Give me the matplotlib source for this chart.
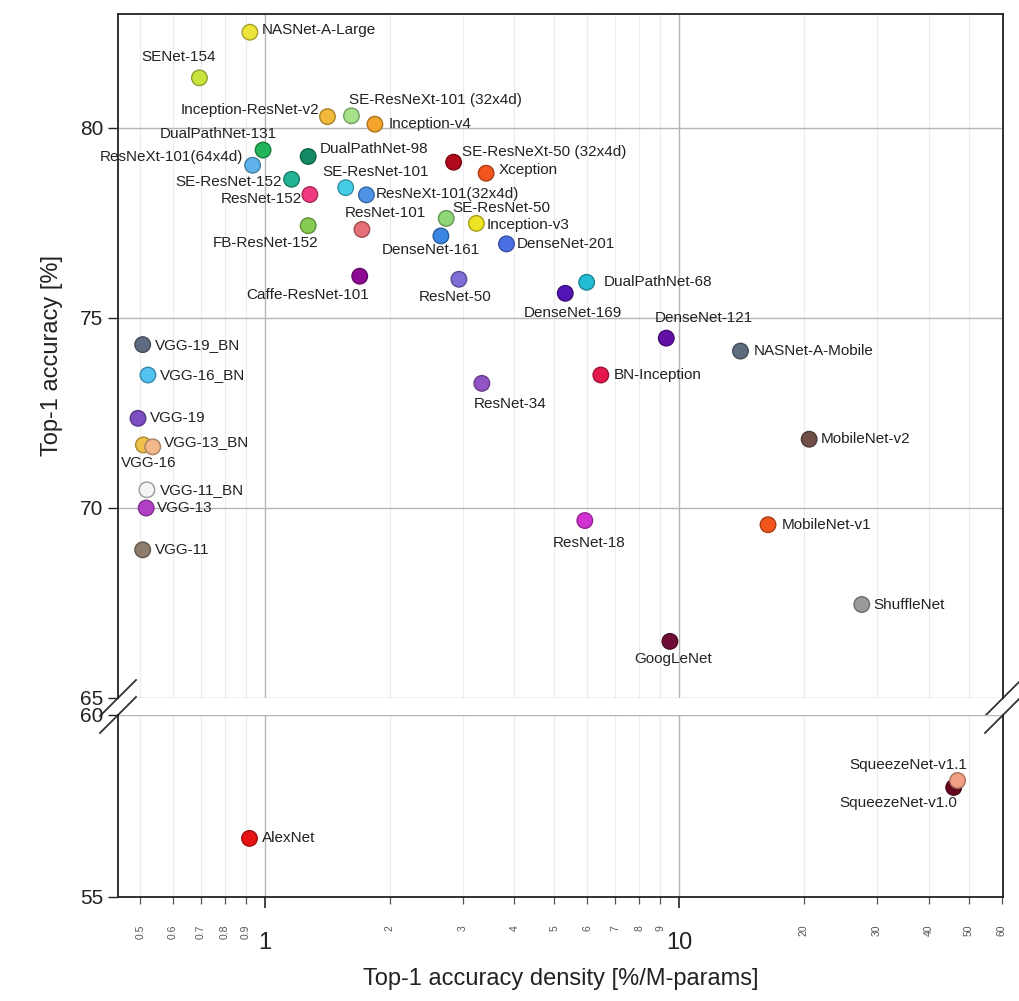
import matplotlib
matplotlib.use("Agg")
import matplotlib.pyplot as plt
import matplotlib.colors as mcolors
from matplotlib.ticker import FixedLocator, FixedFormatter
import numpy as np

plt.rcParams['font.family'] = ['Liberation Sans', 'DejaVu Sans']

# ---------------- data ----------------
names = ["NASNet-A-Large", "SENet-154", "Inception-ResNet-v2", "SE-ResNeXt-101 (32x4d)",
         "Inception-v4", "DualPathNet-131", "ResNeXt-101(64x4d)", "DualPathNet-98",
         "SE-ResNet-152", "ResNet-152", "FB-ResNet-152", "SE-ResNet-101",
         "ResNeXt-101(32x4d)", "ResNet-101", "SE-ResNeXt-50 (32x4d)", "Xception",
         "SE-ResNet-50", "Inception-v3", "DenseNet-161", "DenseNet-201",
         "Caffe-ResNet-101", "ResNet-50", "DualPathNet-68", "DenseNet-169",
         "DenseNet-121", "NASNet-A-Mobile", "BN-Inception", "ResNet-34",
         "VGG-19_BN", "VGG-16_BN", "VGG-19", "VGG-16", "VGG-13_BN", "VGG-11_BN",
         "VGG-13", "VGG-11", "MobileNet-v2", "ResNet-18", "MobileNet-v1",
         "ShuffleNet", "GoogLeNet", "AlexNet", "SqueezeNet-v1.0", "SqueezeNet-v1.1"]

density = [0.92, 0.695, 1.416, 1.618,
           1.843, 0.99, 0.934, 1.272,
           1.16, 1.284, 1.272, 1.567,
           1.758, 1.715, 2.855, 3.42,
           2.74, 3.24, 2.66, 3.83,
           1.694, 2.94, 5.98, 5.31,
           9.31, 14.06, 6.47, 3.34,
           0.507, 0.522, 0.494, 0.509, 0.536, 0.519,
           0.517, 0.507, 20.6, 5.92, 16.39,
           27.6, 9.5, 0.918, 46.0, 47.0]

accuracy = [82.52, 81.32, 80.30, 80.32,
            80.10, 79.42, 79.02, 79.25,
            78.65, 78.25, 77.43, 78.43,
            78.24, 77.33, 79.10, 78.81,
            77.62, 77.49, 77.16, 76.95,
            76.10, 76.02, 75.94, 75.65,
            74.47, 74.13, 73.50, 73.28,
            74.30, 73.50, 72.36, 71.66, 71.61, 70.48,
            70.00, 68.90, 71.81, 69.67, 69.56,
            67.46, 66.49, 56.61, 58.01, 58.20]

colors = ["#ece43a", "#c8e43c", "#f2b93a", "#a6e28a",
          "#f3a52d", "#22b45a", "#5fb3ea", "#128a66",
          "#24b295", "#f03a80", "#86cc52", "#45cde6",
          "#4f93e6", "#e46f78", "#b00a1c", "#f2561e",
          "#8fd676", "#ece424", "#3a86e2", "#4a70e4",
          "#8e0a92", "#7c6ed4", "#24bcd4", "#5214b2",
          "#620fa6", "#5e6d7e", "#e3184c", "#9254c4",
          "#5f6b80", "#52c2f0", "#7d4fc2", "#f0c24a", "#f2b88c", "#f4f4f4",
          "#b240c6", "#8e7c6c", "#6e5046", "#d232d2", "#f2561a",
          "#9a9a9a", "#6e0c36", "#e61414", "#66081e", "#f2a084"]

# label offsets in pixels (dx, dy) and horizontal alignment
label_dx = [12, -21, -8, -2, 14, 14, -9, 12, -10, -8, 10, -23, 9, -17, 8, 13, 6, 10,
            -10, 10, 9, -4, 17, 8, -12, 13, 13, -8, 12, 12, 12, 5, 11, 13, 11, 12,
            12, 4, 14, 12, 3, 12, 4, 10]
label_dy = [2, 21, 7, 16, 0, 16, 8, 7, -3, -5, -17, 16, 1, 16, 10, 3, 10, -2,
            -14, 0, -19, -18, 0, -20, 20, 0, 0, -21, 0, 0, 0, -18, 5, 0, 0, 0,
            0, -22, 0, 0, -18, 0, -16, 16]
label_ha = ["left", "center", "right", "left", "left", "right", "right", "left",
            "right", "right", "right", "left", "left", "left", "left", "left",
            "left", "left", "center", "left", "right", "center", "left", "center",
            "left", "left", "left", "left", "left", "left", "left", "center", "left",
            "left", "left", "left", "left", "center", "left", "left", "center",
            "left", "right", "right"]

xlim = (0.442, 60.5)
top_ylim = (65, 83)
bot_ylim = (55, 60)
minor_ticks = [0.5, 0.6, 0.7, 0.8, 0.9, 2, 3, 4, 5, 6, 7, 8, 9, 20, 30, 40, 50, 60]
minor_labels = ["0.5", "0.6", "0.7", "0.8", "0.9", "2", "3", "4", "5", "6", "7", "8",
                "9", "20", "30", "40", "50", "60"]
major_ticks = [1, 10]
major_labels = ["1", "10"]

# ---------------- figure ----------------
W, H = 1019, 1001
fig = plt.figure(figsize=(W / 100, H / 100), dpi=100)
ax_t = fig.add_axes([118 / W, 1 - 698 / H, 885 / W, 684 / H])
ax_b = fig.add_axes([118 / W, 1 - 897 / H, 885 / W, 182 / H])


def darker(c, f=0.7):
    r, g, b = mcolors.to_rgb(c)
    if min(r, g, b) > 0.85:
        return (0.6, 0.6, 0.6)
    return (r * f, g * f, b * f)


density = np.array(density)
accuracy = np.array(accuracy)
edges = [darker(c) for c in colors]

for ax, ylim in ((ax_t, top_ylim), (ax_b, bot_ylim)):
    ax.set_xscale('log')
    ax.set_xlim(*xlim)
    ax.set_ylim(*ylim)
    mask = (accuracy >= ylim[0]) & (accuracy <= ylim[1])
    idx = np.where(mask)[0]
    ax.scatter(density[idx], accuracy[idx], s=125, c=[colors[i] for i in idx],
               edgecolors=[edges[i] for i in idx], linewidths=1.0, zorder=3)
    for i in idx:
        ax.annotate(names[i], (density[i], accuracy[i]),
                    xytext=(label_dx[i], label_dy[i]), textcoords='offset pixels',
                    ha=label_ha[i], va='center', fontsize=11, color='#222222',
                    zorder=4)
    ax.xaxis.set_major_locator(FixedLocator(major_ticks))
    ax.xaxis.set_minor_locator(FixedLocator(minor_ticks))
    ax.grid(True, which='major', axis='both', color='#b5b5b5', lw=1.0, zorder=0)
    ax.grid(True, which='minor', axis='x', color='#ececec', lw=0.8, zorder=0)
    ax.set_yticks(np.arange(ylim[0], ylim[1] + 0.1, 5))
    ax.tick_params(axis='y', which='major', labelsize=15, length=7, width=1.0,
                   direction='out', colors='#222222')
    for s in ax.spines.values():
        s.set_color('#222222')
        s.set_linewidth(1.3)

ax_t.spines['bottom'].set_visible(False)
ax_b.spines['top'].set_visible(False)
ax_t.tick_params(axis='x', which='both', bottom=False, labelbottom=False)

ax_b.xaxis.set_major_formatter(FixedFormatter(major_labels))
ax_b.xaxis.set_minor_formatter(FixedFormatter(minor_labels))
ax_b.tick_params(axis='x', which='major', labelsize=17, length=8, width=1.2,
                 colors='#222222', pad=17)
ax_b.tick_params(axis='x', which='minor', labelsize=7.5, length=5, width=0.9,
                 colors='#555555', labelrotation=90, pad=15)

ax_t.set_ylabel("Top-1 accuracy [%]", fontsize=17, labelpad=12, color='#222222')
ax_b.set_xlabel("Top-1 accuracy density [%/M-params]", fontsize=17, labelpad=10,
                color='#222222')

# break marks
dx, dy = 18 / 885, 18 / 684
kw = dict(color='#333333', lw=1.3, clip_on=False)
ax_t.plot([-dx, dx], [-dy, dy], transform=ax_t.transAxes, **kw)
ax_t.plot([1 - dx, 1 + dx], [-dy, dy], transform=ax_t.transAxes, **kw)
dyb = 18 / 182
ax_b.plot([-dx, dx], [1 - dyb, 1 + dyb], transform=ax_b.transAxes, **kw)
ax_b.plot([1 - dx, 1 + dx], [1 - dyb, 1 + dyb], transform=ax_b.transAxes, **kw)

fig.savefig("out.png", dpi=100)
